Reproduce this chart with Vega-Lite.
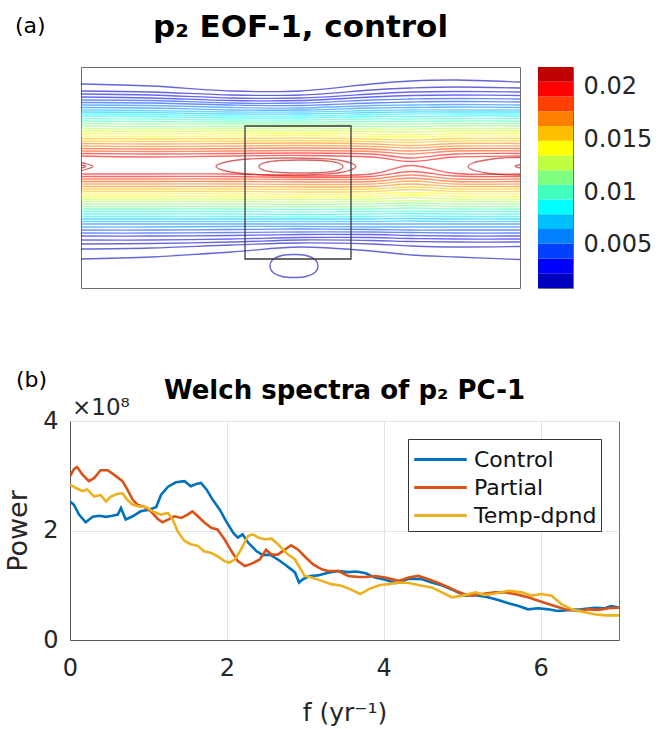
{
  "$schema": "https://vega.github.io/schema/vega-lite/v6.json",
  "background": "white",
  "padding": {"left": 4, "top": 11, "right": 5, "bottom": 4},
  "config": {
    "font": "DejaVu Sans",
    "view": {"stroke": "#6e6e6e", "strokeWidth": 1},
    "axis": {"labelFont": "DejaVu Sans", "titleFont": "DejaVu Sans", "labelColor": "#262626", "titleColor": "#262626"},
    "title": {"font": "DejaVu Sans", "color": "#000000"},
    "text": {"font": "DejaVu Sans"}
  },
  "datasets": {
    "lines": [
      {"id": "T2", "lev": 0.0014, "x": [0,70,150,220,290,330,375,439], "y": [17,19,24,24,17,14,13,15]},
      {"id": "T3", "lev": 0.0021, "x": [0,70,150,220,290,330,375,439], "y": [24,25,28,28,23,21,20,21]},
      {"id": "T4", "lev": 0.0028, "x": [0,70,150,220,290,330,375,439], "y": [27,28,31,31,27,25,24.5,25]},
      {"id": "T5", "lev": 0.0035, "x": [0,70,150,220,290,330,375,439], "y": [30,31,33.5,33.5,30,28.5,28,28.5]},
      {"id": "T6", "lev": 0.0042, "x": [0,70,150,220,290,330,375,439], "y": [33,33.5,36,36,33,32,31.5,32]},
      {"id": "T7", "lev": 0.0049, "x": [0,70,150,220,290,330,375,439], "y": [35.5,36,38,38.5,36,35,34.5,35]},
      {"id": "T8", "lev": 0.0056, "x": [0,70,150,220,290,330,375,439], "y": [38,38.5,40.5,41,38.5,38,37.5,38]},
      {"id": "T9", "lev": 0.0063, "x": [0,70,150,220,290,330,375,439], "y": [40.5,41,43,43,41,40.5,40,40.5]},
      {"id": "T10", "lev": 0.007, "x": [0,70,150,220,290,330,375,439], "y": [43,43.5,45,45,43.5,43,43,43]},
      {"id": "T11", "lev": 0.0077, "x": [0,70,150,220,290,330,375,439], "y": [45,45.5,47,47,45.5,45,45,45]},
      {"id": "T12", "lev": 0.0084, "x": [0,70,150,220,290,330,375,439], "y": [47,47.5,49,49,47.5,47,47,47]},
      {"id": "T13", "lev": 0.0091, "x": [0,70,150,220,290,330,375,439], "y": [49,49.5,51,51,49.5,49.5,49,49]},
      {"id": "T14", "lev": 0.0098, "x": [0,70,150,220,290,330,375,439], "y": [51.5,52,53,53,52,52,51.5,51.5]},
      {"id": "T15", "lev": 0.0105, "x": [0,70,150,220,290,330,375,439], "y": [54,54.5,55,55,54.5,54.5,54,54]},
      {"id": "T16", "lev": 0.0112, "x": [0,70,150,220,290,330,375,439], "y": [56.5,57,57,57,57,57,56.5,56.5]},
      {"id": "T17", "lev": 0.0119, "x": [0,70,150,220,290,330,375,439], "y": [59,59.5,59.5,59,59.5,59.5,59,59]},
      {"id": "T18", "lev": 0.0126, "x": [0,70,150,220,290,330,375,439], "y": [61.5,62,61.5,61,62,62,61.5,61.5]},
      {"id": "T19", "lev": 0.0133, "x": [0,70,150,220,290,330,375,439], "y": [64,64.5,64,63.5,64.5,65,64,64]},
      {"id": "T20", "lev": 0.014, "x": [0,70,150,220,290,330,375,439], "y": [66.5,67,66.5,66,67,67.5,66.5,66.5]},
      {"id": "T21", "lev": 0.0147, "x": [0,70,150,220,290,330,375,439], "y": [69,69.5,69,68.5,69.5,70,69,69]},
      {"id": "T22", "lev": 0.0154, "x": [0,70,150,220,290,330,375,439], "y": [71.5,72,71.5,71,72,73,71.5,71.5]},
      {"id": "T23", "lev": 0.0161, "x": [0,70,150,220,290,330,375,439], "y": [74,74.5,74,73.5,74.5,75.5,74,74]},
      {"id": "T24", "lev": 0.0168, "x": [0,70,150,220,290,330,375,439], "y": [76.5,77,76.5,76,77,78.5,76.5,76.5]},
      {"id": "T25", "lev": 0.0175, "x": [0,70,150,220,290,330,375,439], "y": [79,79.5,79,78.5,79.5,81,79,79]},
      {"id": "T26", "lev": 0.0182, "x": [0,70,150,220,290,330,375,439], "y": [81.5,82,81.5,81,82,84,81.5,81.5]},
      {"id": "T27", "lev": 0.0189, "x": [0,70,150,220,290,330,375,439], "y": [84,84.5,84,83.5,84.5,87,84,84]},
      {"id": "T28", "lev": 0.0196, "x": [0,70,150,220,290,330,375,439], "y": [86.5,87,86.5,86,87,91,87,86.5]},
      {"id": "T29", "lev": 0.0203, "x": [0,70,150,220,290,330,375,439], "y": [89,90,89,88.5,90,94.5,90,89]},
      {"id": "B1", "lev": 0.0007, "x": [0,70,150,220,290,330,375,439], "y": [192,190,185,180,184,188,190,192.5]},
      {"id": "B2", "lev": 0.0014, "x": [0,70,150,220,290,330,375,439], "y": [182,181,178,176,177,179,180,179.5]},
      {"id": "B3", "lev": 0.0021, "x": [0,70,150,220,290,330,375,439], "y": [177,176.5,175,173,173.5,174.5,175,175]},
      {"id": "B4", "lev": 0.0028, "x": [0,70,150,220,290,330,375,439], "y": [173,173,172,170.5,170.5,171.5,172,172]},
      {"id": "B5", "lev": 0.0035, "x": [0,70,150,220,290,330,375,439], "y": [169,169,168.5,167.5,167.5,168.5,169,169]},
      {"id": "B6", "lev": 0.0042, "x": [0,70,150,220,290,330,375,439], "y": [166,166,165.5,165,165,165.5,166,166]},
      {"id": "B7", "lev": 0.0049, "x": [0,70,150,220,290,330,375,439], "y": [163,163,162.5,162,162.5,163,163,163]},
      {"id": "B8", "lev": 0.0056, "x": [0,70,150,220,290,330,375,439], "y": [160,160,159.5,159.5,160,160,160,160]},
      {"id": "B9", "lev": 0.0063, "x": [0,70,150,220,290,330,375,439], "y": [157,157,157,157,157,157,157,157]},
      {"id": "B10", "lev": 0.007, "x": [0,70,150,220,290,330,375,439], "y": [154.5,154.5,154.5,154.5,154.5,154,154.5,154.5]},
      {"id": "B11", "lev": 0.0077, "x": [0,70,150,220,290,330,375,439], "y": [152,152,152,152,152,151.5,152,152]},
      {"id": "B12", "lev": 0.0084, "x": [0,70,150,220,290,330,375,439], "y": [149.5,149.5,149.5,150,149.5,149,149.5,149.5]},
      {"id": "B13", "lev": 0.0091, "x": [0,70,150,220,290,330,375,439], "y": [147,147,147,147.5,147,146.5,147,147]},
      {"id": "B14", "lev": 0.0098, "x": [0,70,150,220,290,330,375,439], "y": [144.5,144.5,144.5,145,144.5,144,144.5,144.5]},
      {"id": "B15", "lev": 0.0105, "x": [0,70,150,220,290,330,375,439], "y": [142,142,142,142.5,142,141,142,142]},
      {"id": "B16", "lev": 0.0112, "x": [0,70,150,220,290,330,375,439], "y": [139.5,139.5,139.5,140,139.5,138.5,139.5,139.5]},
      {"id": "B17", "lev": 0.0119, "x": [0,70,150,220,290,330,375,439], "y": [137,137,137,137.5,137,136,137,137]},
      {"id": "B18", "lev": 0.0126, "x": [0,70,150,220,290,330,375,439], "y": [134.5,134.5,134.5,135,134.5,133.5,134.5,134.5]},
      {"id": "B19", "lev": 0.0133, "x": [0,70,150,220,290,330,375,439], "y": [132,132,132,132.5,132,130.5,132,132]},
      {"id": "B20", "lev": 0.014, "x": [0,70,150,220,290,330,375,439], "y": [129.5,129.5,129.5,130,129.5,128,129.5,129.5]},
      {"id": "B21", "lev": 0.0147, "x": [0,70,150,220,290,330,375,439], "y": [127,127,127,127.5,127,125.5,127,127]},
      {"id": "B22", "lev": 0.0154, "x": [0,70,150,220,290,330,375,439], "y": [124.5,124.5,124.5,125,124.5,122.5,124.5,124.5]},
      {"id": "B23", "lev": 0.0161, "x": [0,70,150,220,290,330,375,439], "y": [122,122,122,122.5,122,120,122,122]},
      {"id": "B24", "lev": 0.0168, "x": [0,70,150,220,290,330,375,439], "y": [119.5,119.5,119.5,120,119.5,117,119.5,119.5]},
      {"id": "B25", "lev": 0.0175, "x": [0,70,150,220,290,330,375,439], "y": [117,117,117,117.5,117,114,117,117]},
      {"id": "B26", "lev": 0.0182, "x": [0,70,150,220,290,330,375,439], "y": [114.5,114.5,114.5,115,114.5,111,114.5,114.5]},
      {"id": "B27", "lev": 0.0189, "x": [0,70,150,220,290,330,375,439], "y": [112,112,112,112.5,112,108,112,112]},
      {"id": "B28", "lev": 0.0196, "x": [0,70,150,220,290,330,375,439], "y": [109.5,109.5,109.5,110.5,109.5,104.5,109,109.5]},
      {"id": "B29", "lev": 0.0203, "x": [0,70,150,220,290,330,375,439], "y": [107,107,107,109,107,98.5,106.5,107]},
      {"id": "R30", "lev": 0.021, "x": [439,420,405,392,387,392,405,420,439], "y": [90.5,91,93,96,99.5,103,106,107.5,108]},
      {"id": "R31", "lev": 0.0217, "x": [439,434,439], "y": [97.5,99.3,101]},
      {"id": "L30", "lev": 0.021, "x": [0,6,12,6,0], "y": [95.5,97,99.5,102,103.5]},
      {"id": "L31", "lev": 0.0217, "x": [0,5,0], "y": [98,99.5,101]}
    ],
    "loops": [
      {"id": "C30", "lev": 0.021, "x": [135,145,167,205,235,260,275,260,235,205,167,145], "y": [99.5,95,92,91,91.5,93.5,99.5,105.5,107.5,108,107,104]},
      {"id": "C31", "lev": 0.0217, "x": [178,184,199,220,241,256,262,256,241,220,199,184], "y": [99.5,95.5,93.5,93,93.5,95.5,99.5,103.5,105.5,106,105.5,103.5]},
      {"id": "E1", "lev": 0.0014, "x": [189,192,201,213,225,234,237,234,225,213,201,192], "y": [199,192.5,188.5,187.5,188.5,192.5,199,205.5,209.5,210.5,209.5,205.5]}
    ],
    "box": [{"x0": 164, "x1": 270, "y0": 59, "y1": 192}],
    "bands": [
      {"lo": 0.0009, "hi": 0.0023, "mid": 0.0016},
      {"lo": 0.0023, "hi": 0.0037, "mid": 0.003},
      {"lo": 0.0037, "hi": 0.0051, "mid": 0.0044},
      {"lo": 0.0051, "hi": 0.0065, "mid": 0.0058},
      {"lo": 0.0065, "hi": 0.0079, "mid": 0.0072},
      {"lo": 0.0079, "hi": 0.0093, "mid": 0.0086},
      {"lo": 0.0093, "hi": 0.0107, "mid": 0.01},
      {"lo": 0.0107, "hi": 0.0121, "mid": 0.0114},
      {"lo": 0.0121, "hi": 0.0135, "mid": 0.0128},
      {"lo": 0.0135, "hi": 0.0149, "mid": 0.0142},
      {"lo": 0.0149, "hi": 0.0163, "mid": 0.0156},
      {"lo": 0.0163, "hi": 0.0177, "mid": 0.017},
      {"lo": 0.0177, "hi": 0.0191, "mid": 0.0184},
      {"lo": 0.0191, "hi": 0.0205, "mid": 0.0198},
      {"lo": 0.0205, "hi": 0.0219, "mid": 0.0212}
    ],
    "spectra": [
      {"run":"Control","f":0,"p":2.53e8},{"run":"Control","f":0.05,"p":2.47e8},{"run":"Control","f":0.115,"p":2.29e8},{"run":"Control","f":0.2,"p":2.15e8},{"run":"Control","f":0.29,"p":2.25e8},{"run":"Control","f":0.37,"p":2.27e8},{"run":"Control","f":0.46,"p":2.25e8},{"run":"Control","f":0.54,"p":2.27e8},{"run":"Control","f":0.61,"p":2.29e8},{"run":"Control","f":0.65,"p":2.41e8},{"run":"Control","f":0.71,"p":2.2e8},{"run":"Control","f":0.8,"p":2.26e8},{"run":"Control","f":0.9,"p":2.35e8},{"run":"Control","f":1.01,"p":2.38e8},{"run":"Control","f":1.1,"p":2.43e8},{"run":"Control","f":1.16,"p":2.65e8},{"run":"Control","f":1.25,"p":2.8e8},{"run":"Control","f":1.35,"p":2.88e8},{"run":"Control","f":1.46,"p":2.9e8},{"run":"Control","f":1.54,"p":2.81e8},{"run":"Control","f":1.61,"p":2.85e8},{"run":"Control","f":1.67,"p":2.87e8},{"run":"Control","f":1.74,"p":2.75e8},{"run":"Control","f":1.82,"p":2.56e8},{"run":"Control","f":1.91,"p":2.38e8},{"run":"Control","f":1.99,"p":2.17e8},{"run":"Control","f":2.08,"p":1.96e8},{"run":"Control","f":2.14,"p":1.87e8},{"run":"Control","f":2.2,"p":1.93e8},{"run":"Control","f":2.27,"p":1.78e8},{"run":"Control","f":2.38,"p":1.62e8},{"run":"Control","f":2.46,"p":1.55e8},{"run":"Control","f":2.55,"p":1.56e8},{"run":"Control","f":2.65,"p":1.47e8},{"run":"Control","f":2.74,"p":1.38e8},{"run":"Control","f":2.82,"p":1.29e8},{"run":"Control","f":2.87,"p":1.23e8},{"run":"Control","f":2.92,"p":1.05e8},{"run":"Control","f":2.97,"p":1.11e8},{"run":"Control","f":3.06,"p":1.17e8},{"run":"Control","f":3.16,"p":1.18e8},{"run":"Control","f":3.29,"p":1.23e8},{"run":"Control","f":3.42,"p":1.26e8},{"run":"Control","f":3.55,"p":1.24e8},{"run":"Control","f":3.65,"p":1.25e8},{"run":"Control","f":3.77,"p":1.22e8},{"run":"Control","f":3.89,"p":1.14e8},{"run":"Control","f":4.02,"p":1.1e8},{"run":"Control","f":4.15,"p":1.04e8},{"run":"Control","f":4.32,"p":1.12e8},{"run":"Control","f":4.49,"p":1.11e8},{"run":"Control","f":4.61,"p":1.05e8},{"run":"Control","f":4.74,"p":1.0e8},{"run":"Control","f":4.87,"p":0.92e8},{"run":"Control","f":5.04,"p":0.81e8},{"run":"Control","f":5.17,"p":0.82e8},{"run":"Control","f":5.33,"p":0.78e8},{"run":"Control","f":5.46,"p":0.73e8},{"run":"Control","f":5.59,"p":0.67e8},{"run":"Control","f":5.72,"p":0.62e8},{"run":"Control","f":5.84,"p":0.56e8},{"run":"Control","f":5.97,"p":0.58e8},{"run":"Control","f":6.1,"p":0.56e8},{"run":"Control","f":6.22,"p":0.53e8},{"run":"Control","f":6.39,"p":0.55e8},{"run":"Control","f":6.52,"p":0.56e8},{"run":"Control","f":6.69,"p":0.59e8},{"run":"Control","f":6.82,"p":0.58e8},{"run":"Control","f":6.9,"p":0.62e8},{"run":"Control","f":7.0,"p":0.59e8},
      {"run":"Partial","f":0,"p":2.99e8},{"run":"Partial","f":0.05,"p":3.12e8},{"run":"Partial","f":0.09,"p":3.16e8},{"run":"Partial","f":0.16,"p":3.02e8},{"run":"Partial","f":0.24,"p":2.9e8},{"run":"Partial","f":0.31,"p":2.96e8},{"run":"Partial","f":0.39,"p":3.1e8},{"run":"Partial","f":0.48,"p":3.1e8},{"run":"Partial","f":0.56,"p":3.02e8},{"run":"Partial","f":0.67,"p":2.9e8},{"run":"Partial","f":0.73,"p":2.75e8},{"run":"Partial","f":0.8,"p":2.56e8},{"run":"Partial","f":0.86,"p":2.47e8},{"run":"Partial","f":0.95,"p":2.43e8},{"run":"Partial","f":1.03,"p":2.35e8},{"run":"Partial","f":1.12,"p":2.21e8},{"run":"Partial","f":1.18,"p":2.15e8},{"run":"Partial","f":1.25,"p":2.2e8},{"run":"Partial","f":1.33,"p":2.26e8},{"run":"Partial","f":1.42,"p":2.23e8},{"run":"Partial","f":1.5,"p":2.29e8},{"run":"Partial","f":1.56,"p":2.35e8},{"run":"Partial","f":1.63,"p":2.26e8},{"run":"Partial","f":1.71,"p":2.15e8},{"run":"Partial","f":1.8,"p":2.05e8},{"run":"Partial","f":1.88,"p":2.02e8},{"run":"Partial","f":1.97,"p":1.84e8},{"run":"Partial","f":2.06,"p":1.62e8},{"run":"Partial","f":2.14,"p":1.44e8},{"run":"Partial","f":2.23,"p":1.35e8},{"run":"Partial","f":2.31,"p":1.39e8},{"run":"Partial","f":2.42,"p":1.47e8},{"run":"Partial","f":2.5,"p":1.65e8},{"run":"Partial","f":2.57,"p":1.56e8},{"run":"Partial","f":2.65,"p":1.56e8},{"run":"Partial","f":2.74,"p":1.65e8},{"run":"Partial","f":2.82,"p":1.73e8},{"run":"Partial","f":2.91,"p":1.65e8},{"run":"Partial","f":2.99,"p":1.53e8},{"run":"Partial","f":3.1,"p":1.38e8},{"run":"Partial","f":3.21,"p":1.29e8},{"run":"Partial","f":3.29,"p":1.26e8},{"run":"Partial","f":3.42,"p":1.26e8},{"run":"Partial","f":3.55,"p":1.17e8},{"run":"Partial","f":3.68,"p":1.15e8},{"run":"Partial","f":3.77,"p":1.15e8},{"run":"Partial","f":3.89,"p":1.17e8},{"run":"Partial","f":4.02,"p":1.14e8},{"run":"Partial","f":4.19,"p":1.08e8},{"run":"Partial","f":4.32,"p":1.14e8},{"run":"Partial","f":4.44,"p":1.17e8},{"run":"Partial","f":4.57,"p":1.11e8},{"run":"Partial","f":4.7,"p":1.04e8},{"run":"Partial","f":4.83,"p":0.96e8},{"run":"Partial","f":4.95,"p":0.88e8},{"run":"Partial","f":5.08,"p":0.81e8},{"run":"Partial","f":5.25,"p":0.84e8},{"run":"Partial","f":5.42,"p":0.87e8},{"run":"Partial","f":5.55,"p":0.87e8},{"run":"Partial","f":5.67,"p":0.84e8},{"run":"Partial","f":5.84,"p":0.78e8},{"run":"Partial","f":6.01,"p":0.7e8},{"run":"Partial","f":6.18,"p":0.62e8},{"run":"Partial","f":6.31,"p":0.56e8},{"run":"Partial","f":6.48,"p":0.53e8},{"run":"Partial","f":6.61,"p":0.56e8},{"run":"Partial","f":6.74,"p":0.55e8},{"run":"Partial","f":6.86,"p":0.58e8},{"run":"Partial","f":7.0,"p":0.59e8},
      {"run":"Temp-dpnd","f":0,"p":2.84e8},{"run":"Temp-dpnd","f":0.07,"p":2.78e8},{"run":"Temp-dpnd","f":0.16,"p":2.72e8},{"run":"Temp-dpnd","f":0.22,"p":2.75e8},{"run":"Temp-dpnd","f":0.31,"p":2.62e8},{"run":"Temp-dpnd","f":0.39,"p":2.65e8},{"run":"Temp-dpnd","f":0.46,"p":2.53e8},{"run":"Temp-dpnd","f":0.52,"p":2.62e8},{"run":"Temp-dpnd","f":0.61,"p":2.67e8},{"run":"Temp-dpnd","f":0.67,"p":2.68e8},{"run":"Temp-dpnd","f":0.73,"p":2.56e8},{"run":"Temp-dpnd","f":0.8,"p":2.47e8},{"run":"Temp-dpnd","f":0.88,"p":2.44e8},{"run":"Temp-dpnd","f":0.97,"p":2.43e8},{"run":"Temp-dpnd","f":1.05,"p":2.35e8},{"run":"Temp-dpnd","f":1.16,"p":2.29e8},{"run":"Temp-dpnd","f":1.25,"p":2.32e8},{"run":"Temp-dpnd","f":1.31,"p":2.2e8},{"run":"Temp-dpnd","f":1.37,"p":1.99e8},{"run":"Temp-dpnd","f":1.46,"p":1.81e8},{"run":"Temp-dpnd","f":1.54,"p":1.75e8},{"run":"Temp-dpnd","f":1.63,"p":1.72e8},{"run":"Temp-dpnd","f":1.71,"p":1.62e8},{"run":"Temp-dpnd","f":1.8,"p":1.59e8},{"run":"Temp-dpnd","f":1.88,"p":1.53e8},{"run":"Temp-dpnd","f":1.97,"p":1.44e8},{"run":"Temp-dpnd","f":2.03,"p":1.41e8},{"run":"Temp-dpnd","f":2.1,"p":1.47e8},{"run":"Temp-dpnd","f":2.18,"p":1.65e8},{"run":"Temp-dpnd","f":2.27,"p":1.9e8},{"run":"Temp-dpnd","f":2.33,"p":1.93e8},{"run":"Temp-dpnd","f":2.4,"p":1.87e8},{"run":"Temp-dpnd","f":2.48,"p":1.84e8},{"run":"Temp-dpnd","f":2.57,"p":1.85e8},{"run":"Temp-dpnd","f":2.65,"p":1.75e8},{"run":"Temp-dpnd","f":2.72,"p":1.65e8},{"run":"Temp-dpnd","f":2.78,"p":1.56e8},{"run":"Temp-dpnd","f":2.87,"p":1.47e8},{"run":"Temp-dpnd","f":2.93,"p":1.32e8},{"run":"Temp-dpnd","f":2.99,"p":1.17e8},{"run":"Temp-dpnd","f":3.08,"p":1.14e8},{"run":"Temp-dpnd","f":3.21,"p":1.08e8},{"run":"Temp-dpnd","f":3.33,"p":1.02e8},{"run":"Temp-dpnd","f":3.46,"p":0.99e8},{"run":"Temp-dpnd","f":3.57,"p":0.93e8},{"run":"Temp-dpnd","f":3.7,"p":0.84e8},{"run":"Temp-dpnd","f":3.81,"p":0.93e8},{"run":"Temp-dpnd","f":3.94,"p":1.0e8},{"run":"Temp-dpnd","f":4.06,"p":1.02e8},{"run":"Temp-dpnd","f":4.19,"p":1.05e8},{"run":"Temp-dpnd","f":4.32,"p":1.04e8},{"run":"Temp-dpnd","f":4.49,"p":0.99e8},{"run":"Temp-dpnd","f":4.61,"p":0.96e8},{"run":"Temp-dpnd","f":4.74,"p":0.87e8},{"run":"Temp-dpnd","f":4.87,"p":0.78e8},{"run":"Temp-dpnd","f":5.0,"p":0.81e8},{"run":"Temp-dpnd","f":5.17,"p":0.87e8},{"run":"Temp-dpnd","f":5.29,"p":0.82e8},{"run":"Temp-dpnd","f":5.42,"p":0.85e8},{"run":"Temp-dpnd","f":5.59,"p":0.9e8},{"run":"Temp-dpnd","f":5.76,"p":0.87e8},{"run":"Temp-dpnd","f":5.89,"p":0.81e8},{"run":"Temp-dpnd","f":6.01,"p":0.84e8},{"run":"Temp-dpnd","f":6.14,"p":0.81e8},{"run":"Temp-dpnd","f":6.27,"p":0.65e8},{"run":"Temp-dpnd","f":6.4,"p":0.56e8},{"run":"Temp-dpnd","f":6.52,"p":0.52e8},{"run":"Temp-dpnd","f":6.69,"p":0.47e8},{"run":"Temp-dpnd","f":6.82,"p":0.45e8},{"run":"Temp-dpnd","f":7.0,"p":0.45e8}
    ]
  },
  "vconcat": [
    {
      "hconcat": [
        {
          "width": 11,
          "height": 221,
          "data": {"values": [{}]},
          "mark": {"type": "point", "opacity": 0},
          "view": {"stroke": null}
        },
        {
          "hconcat": [
            {
              "width": 439,
              "height": 221,
              "title": {"text": "p₂ EOF-1, control", "fontSize": 31, "fontWeight": "bold", "anchor": "middle", "offset": -29},
              "layer": [
                {
                  "data": {"name": "lines"},
                  "transform": [{"flatten": ["x", "y"]}, {"window": [{"op": "row_number", "as": "i"}], "groupby": ["id"]}],
                  "mark": {"type": "line", "interpolate": "cardinal", "strokeWidth": 1.3, "opacity": 0.6, "clip": true},
                  "encoding": {
                    "x": {"field": "x", "type": "quantitative", "scale": {"domain": [0, 439], "nice": false, "zero": false}, "axis": null},
                    "y": {"field": "y", "type": "quantitative", "scale": {"domain": [0, 221], "nice": false, "zero": false, "reverse": true}, "axis": null},
                    "color": {"field": "lev", "type": "quantitative", "scale": {"type": "quantize", "domain": [0.0009, 0.0219], "nice": false, "zero": false, "range": ["#0000BF","#0000FF","#0040FF","#0080FF","#00BFFF","#00FFFF","#40FFBF","#80FF80","#BFFF40","#FFFF00","#FFBF00","#FF8000","#FF4000","#FF0000","#BF0000"]}, "legend": null},
                    "detail": {"field": "id", "type": "nominal"},
                    "order": {"field": "i", "type": "quantitative"}
                  }
                },
                {
                  "data": {"name": "loops"},
                  "transform": [{"flatten": ["x", "y"]}, {"window": [{"op": "row_number", "as": "i"}], "groupby": ["id"]}],
                  "mark": {"type": "line", "interpolate": "cardinal-closed", "strokeWidth": 1.3, "opacity": 0.6, "clip": true},
                  "encoding": {
                    "x": {"field": "x", "type": "quantitative"},
                    "y": {"field": "y", "type": "quantitative"},
                    "color": {"field": "lev", "type": "quantitative", "scale": {"type": "quantize", "domain": [0.0009, 0.0219], "nice": false, "zero": false, "range": ["#0000BF","#0000FF","#0040FF","#0080FF","#00BFFF","#00FFFF","#40FFBF","#80FF80","#BFFF40","#FFFF00","#FFBF00","#FF8000","#FF4000","#FF0000","#BF0000"]}, "legend": null},
                    "detail": {"field": "id", "type": "nominal"},
                    "order": {"field": "i", "type": "quantitative"}
                  }
                },
                {
                  "data": {"name": "box"},
                  "mark": {"type": "rect", "fill": "transparent", "stroke": "#3a3a3a", "strokeWidth": 1.3},
                  "encoding": {
                    "x": {"field": "x0", "type": "quantitative"},
                    "x2": {"field": "x1"},
                    "y": {"field": "y0", "type": "quantitative"},
                    "y2": {"field": "y1"}
                  }
                },
                {
                  "data": {"values": [{}]},
                  "mark": {"type": "text", "text": "(a)", "fontSize": 22, "align": "left", "baseline": "middle", "color": "#000000"},
                  "encoding": {"x": {"datum": -66, "type": "quantitative"}, "y": {"datum": -41, "type": "quantitative"}}
                }
              ]
            },
            {
              "width": 35,
              "height": 221,
              "data": {"name": "bands"},
              "mark": {"type": "rect"},
              "encoding": {
                "x": {"datum": 0, "type": "quantitative", "scale": {"domain": [0, 1], "nice": false, "zero": false}, "axis": null},
                "x2": {"datum": 1},
                "y": {"field": "lo", "type": "quantitative", "scale": {"domain": [0.0009, 0.0219], "nice": false, "zero": false}, "axis": {"orient": "right", "values": [0.005, 0.01, 0.015, 0.02], "format": "~g", "labelFontSize": 24, "labelPadding": 10, "ticks": false, "domain": false, "grid": false, "title": null}},
                "y2": {"field": "hi"},
                "color": {"field": "mid", "type": "quantitative", "scale": {"type": "quantize", "domain": [0.0009, 0.0219], "nice": false, "zero": false, "range": ["#0000BF","#0000FF","#0040FF","#0080FF","#00BFFF","#00FFFF","#40FFBF","#80FF80","#BFFF40","#FFFF00","#FFBF00","#FF8000","#FF4000","#FF0000","#BF0000"]}, "legend": null}
              }
            }
          ],
          "spacing": 18,
          "bounds": "flush"
        }
      ],
      "spacing": 0,
      "bounds": "flush"
    },
    {
      "width": 549,
      "height": 219,
      "title": {"text": "Welch spectra of p₂ PC-1", "fontSize": 26, "fontWeight": "bold", "anchor": "middle", "offset": -35},
      "layer": [
        {
          "data": {"name": "spectra"},
          "mark": {"type": "line", "strokeWidth": 2.6, "clip": true},
          "encoding": {
            "x": {"field": "f", "type": "quantitative", "scale": {"domain": [0, 7], "nice": false, "zero": false}, "axis": {"values": [0, 2, 4, 6], "format": "~g", "title": "f (yr⁻¹)", "titleFontSize": 25, "titleFontWeight": "normal", "labelFontSize": 24, "labelPadding": 16, "titlePadding": 20, "ticks": false, "grid": true, "gridColor": "#e3e3e3", "domainColor": "#555555", "labelFlush": false}},
            "y": {"field": "p", "type": "quantitative", "scale": {"domain": [0, 400000000], "nice": false, "zero": false}, "axis": {"values": [0, 200000000, 400000000], "labelExpr": "datum.value / 100000000", "title": "Power", "titleFontSize": 27, "titleFontWeight": "normal", "labelFontSize": 24, "labelPadding": 12, "titlePadding": 10, "ticks": false, "grid": true, "gridColor": "#e3e3e3", "domainColor": "#555555", "labelFlush": false}},
            "color": {"field": "run", "type": "nominal", "scale": {"domain": ["Control", "Partial", "Temp-dpnd"], "range": ["#0072BD", "#D95319", "#EDB120"]},
              "legend": {"title": null, "orient": "top-right", "offset": 18, "padding": 4, "strokeColor": "#333333", "fillColor": "white", "labelFontSize": 22, "labelColor": "#111111", "symbolType": "M-1.75,0H1.75", "symbolSize": 900, "symbolStrokeWidth": 3, "symbolOffset": 12, "labelOffset": 17, "rowPadding": 0, "labelLimit": 300}}
          }
        },
        {
          "data": {"values": [{}]},
          "mark": {"type": "text", "text": "×10⁸", "fontSize": 23, "align": "left", "baseline": "alphabetic", "dx": 2, "dy": -6, "color": "#262626"},
          "encoding": {"x": {"datum": 0, "type": "quantitative"}, "y": {"datum": 400000000, "type": "quantitative"}}
        },
        {
          "data": {"values": [{}]},
          "mark": {"type": "text", "text": "(b)", "fontSize": 22, "align": "left", "baseline": "middle", "color": "#000000"},
          "encoding": {"x": {"datum": -0.69, "type": "quantitative"}, "y": {"datum": 475000000, "type": "quantitative"}}
        }
      ]
    }
  ],
  "spacing": 79,
  "resolve": {"scale": {"color": "independent"}}
}
